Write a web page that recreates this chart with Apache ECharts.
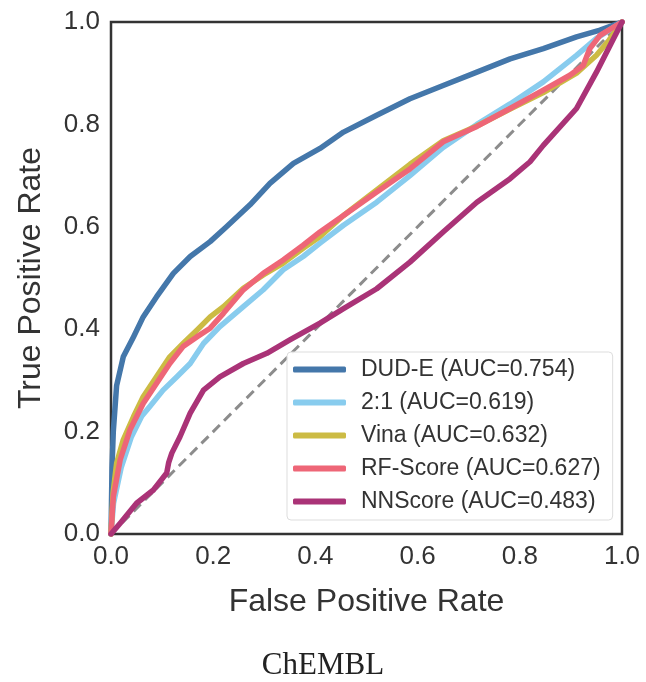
<!DOCTYPE html>
<html>
<head>
<meta charset="utf-8">
<script src="https://cdn.jsdelivr.net/npm/echarts@6/dist/echarts.min.js"></script>
<style>html,body{margin:0;padding:0;background:#fff;}#c{width:646px;height:682px;}</style>
</head>
<body>
<div id="c"></div>
<script>
var seriesNames = ['DUD-E (AUC=0.754)', '2:1 (AUC=0.619)', 'Vina (AUC=0.632)', 'RF-Score (AUC=0.627)', 'NNScore (AUC=0.483)'];
var xTicks = [0.0, 0.2, 0.4, 0.6, 0.8, 1.0];

var dudeFpr = [0, 0.002, 0.0045, 0.011, 0.024, 0.044, 0.063, 0.089, 0.122, 0.155, 0.194, 0.226, 0.272, 0.311, 0.357, 0.409, 0.455, 0.52, 0.585, 0.65, 0.716, 0.781, 0.846, 0.911, 0.957, 1];
var dudeTpr = [0, 0.13, 0.20, 0.29, 0.346, 0.385, 0.424, 0.463, 0.509, 0.542, 0.571, 0.600, 0.643, 0.685, 0.724, 0.753, 0.785, 0.818, 0.850, 0.876, 0.902, 0.928, 0.948, 0.971, 0.984, 1];

var twoOneFpr = [0, 0.005, 0.02, 0.04, 0.06, 0.076, 0.102, 0.129, 0.155, 0.181, 0.213, 0.259, 0.298, 0.337, 0.376, 0.409, 0.455, 0.52, 0.585, 0.65, 0.716, 0.781, 0.846, 0.911, 0.95, 1];
var twoOneTpr = [0, 0.06, 0.13, 0.19, 0.23, 0.249, 0.281, 0.307, 0.333, 0.372, 0.405, 0.444, 0.477, 0.516, 0.542, 0.568, 0.603, 0.648, 0.700, 0.755, 0.800, 0.840, 0.883, 0.935, 0.968, 1];

var vinaFpr = [0, 0.004, 0.011, 0.024, 0.044, 0.063, 0.089, 0.115, 0.141, 0.168, 0.194, 0.220, 0.259, 0.298, 0.337, 0.376, 0.409, 0.455, 0.52, 0.585, 0.65, 0.716, 0.781, 0.846, 0.911, 0.95, 0.975, 1];
var vinaTpr = [0, 0.08, 0.138, 0.184, 0.229, 0.268, 0.307, 0.346, 0.372, 0.398, 0.424, 0.444, 0.480, 0.506, 0.529, 0.558, 0.581, 0.622, 0.672, 0.722, 0.768, 0.797, 0.830, 0.862, 0.900, 0.935, 0.965, 1];

var rfFpr = [0, 0.0045, 0.018, 0.037, 0.063, 0.089, 0.115, 0.141, 0.168, 0.194, 0.220, 0.259, 0.298, 0.337, 0.376, 0.409, 0.455, 0.52, 0.585, 0.65, 0.716, 0.781, 0.846, 0.898, 0.924, 0.937, 0.957, 1];
var rfTpr = [0, 0.073, 0.145, 0.203, 0.255, 0.294, 0.333, 0.366, 0.385, 0.402, 0.431, 0.477, 0.509, 0.535, 0.564, 0.590, 0.622, 0.668, 0.713, 0.766, 0.796, 0.831, 0.867, 0.896, 0.915, 0.948, 0.974, 1];

var nnFpr = [0, 0.018, 0.050, 0.083, 0.109, 0.113, 0.119, 0.135, 0.155, 0.181, 0.213, 0.259, 0.305, 0.350, 0.409, 0.455, 0.52, 0.585, 0.65, 0.716, 0.781, 0.820, 0.846, 0.911, 0.95, 1];
var nnTpr = [0, 0.021, 0.060, 0.086, 0.119, 0.140, 0.158, 0.190, 0.236, 0.281, 0.307, 0.333, 0.353, 0.379, 0.412, 0.440, 0.479, 0.531, 0.590, 0.648, 0.694, 0.727, 0.759, 0.831, 0.902, 1];

var chanceFpr = [0, 1];
var chanceTpr = [0, 1];

var colors = ['#4477AA', '#88CCEE', '#CCBB44', '#EE6677', '#AA3377'];

function pairs(xs, ys) { return xs.map(function (x, i) { return [x, ys[i]]; }); }

var curveData = [
  pairs(dudeFpr, dudeTpr),
  pairs(twoOneFpr, twoOneTpr),
  pairs(vinaFpr, vinaTpr),
  pairs(rfFpr, rfTpr),
  pairs(nnFpr, nnTpr)
];

var series = [{
  name: 'chance',
  type: 'line',
  data: pairs(chanceFpr, chanceTpr),
  symbol: 'none',
  silent: true,
  z: 1,
  lineStyle: { color: '#8c8c8c', width: 3, type: [10, 6] }
}];
seriesNames.forEach(function (n, i) {
  series.push({
    name: n,
    type: 'line',
    data: curveData[i],
    symbol: 'none',
    z: 2 + i,
    color: colors[i],
    lineStyle: { color: colors[i], width: 5.5, cap: 'round', join: 'round' }
  });
});

var chart = echarts.init(document.getElementById('c'));
var font = '"Liberation Sans", Arial, sans-serif';
chart.setOption({
  animation: false,
  backgroundColor: '#fff',
  textStyle: { fontFamily: font },
  title: {
    text: 'ChEMBL',
    left: 'center',
    top: 645,
    textStyle: { fontFamily: '"Liberation Serif", "DejaVu Serif", serif', fontSize: 31, fontWeight: 'normal', color: '#222' }
  },
  grid: {
    left: 111, right: 24, top: 22, bottom: 148,
    show: true, borderColor: '#333', borderWidth: 2.5, backgroundColor: '#fff'
  },
  legend: {
    data: seriesNames,
    orient: 'vertical',
    left: 287, top: 352,
    padding: [6, 12, 7, 6],
    itemGap: 10,
    itemWidth: 53, itemHeight: 6,
    icon: 'roundRect',
    borderColor: '#ddd', borderWidth: 1, borderRadius: 4,
    backgroundColor: 'rgba(255,255,255,0.85)',
    textStyle: { fontSize: 23, color: '#333', lineHeight: 23, padding: [0, 0, 0, 10], fontFamily: font }
  },
  xAxis: {
    type: 'value', min: 0, max: 1, interval: 0.2,
    name: 'False Positive Rate', nameLocation: 'middle', nameGap: 52,
    nameTextStyle: { fontSize: 32, color: '#333', fontFamily: font },
    axisLine: { show: false }, axisTick: { show: false }, splitLine: { show: false },
    axisLabel: { fontSize: 26, color: '#333', margin: 10, fontFamily: font,
      formatter: function (v) { return v.toFixed(1); } }
  },
  yAxis: {
    type: 'value', min: 0, max: 1, interval: 0.2,
    name: 'True Positive Rate', nameLocation: 'middle', nameGap: 64,
    nameTextStyle: { fontSize: 32, color: '#333', fontFamily: font },
    axisLine: { show: false }, axisTick: { show: false }, splitLine: { show: false },
    axisLabel: { fontSize: 26, color: '#333', margin: 11, fontFamily: font,
      formatter: function (v) { return v.toFixed(1); } }
  },
  series: series
});
</script>
</body>
</html>
